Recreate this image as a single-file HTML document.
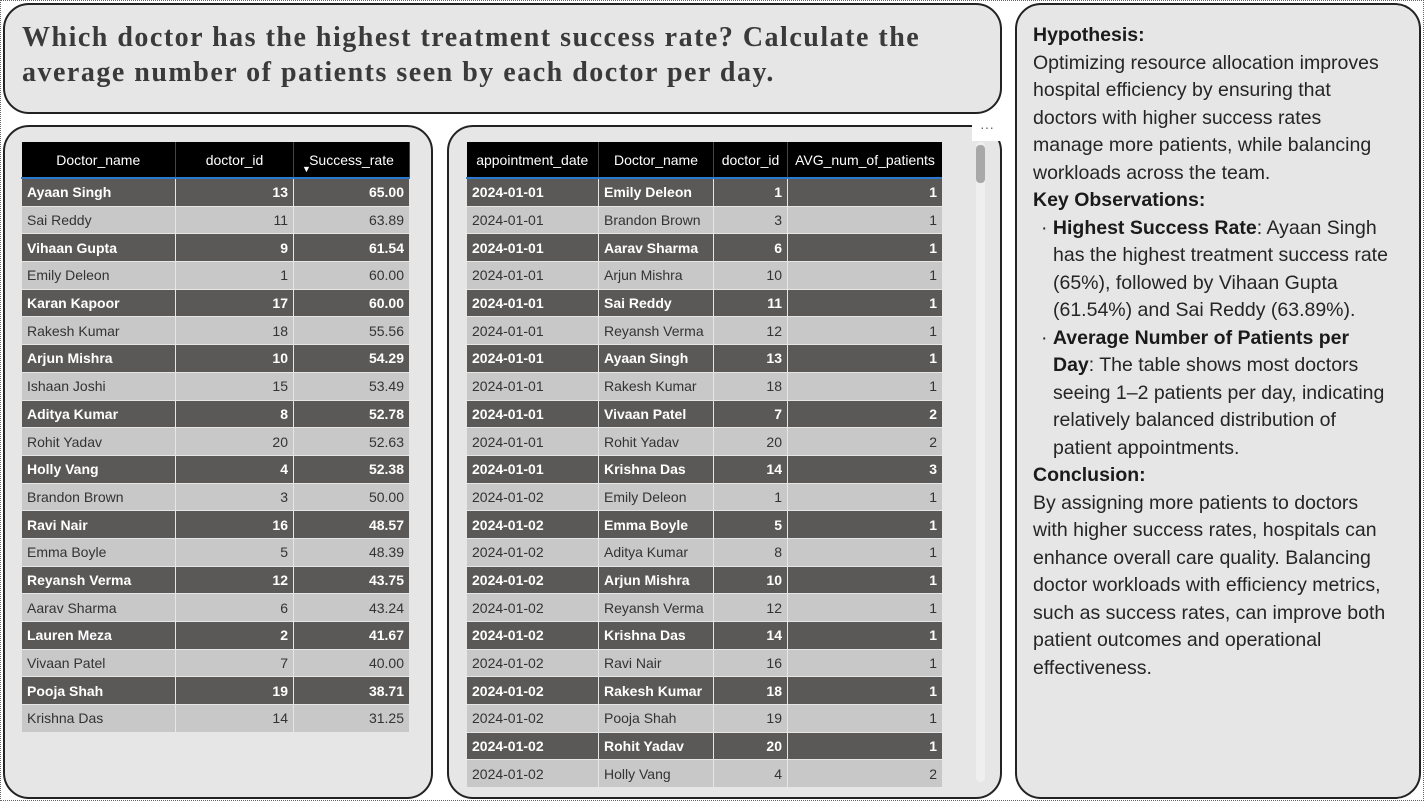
<!DOCTYPE html>
<html><head><meta charset="utf-8"><style>
body{margin:0;width:1424px;height:801px;background:#fff;position:relative;overflow:hidden;font-family:"Liberation Sans",sans-serif}
.frame{position:absolute;left:0;top:0;width:1422px;height:799px;border:1px dotted #666}
.panel{position:absolute;background:#e6e6e6;border:2px solid #222;border-radius:26px;box-sizing:border-box}
.title{left:3px;top:3px;width:999px;height:111px;font-family:"Liberation Serif",serif;font-weight:bold;font-size:28px;letter-spacing:1.5px;color:#3a3a3a;padding:15px 0 0 17px;line-height:35px;white-space:nowrap}
table{position:absolute;border-collapse:collapse;font-size:14px;table-layout:fixed}
th{background:#000;color:#fff;font-weight:normal;height:35px;border-right:1px solid #444;border-bottom:2px solid #2a7bd0;padding:0 5px;white-space:nowrap;text-align:center}
td{height:26.7px;padding:0 5px;border:1px solid #e6e6e6;white-space:nowrap;overflow:hidden}
tr.d td{background:#5b5958;color:#fff;font-weight:bold}
tr.l td{background:#c8c8c8;color:#333}
td.n{text-align:right}
.txt{left:1015px;top:3px;width:406px;height:796px;padding:17px 0 0 16px;font-size:19.5px;line-height:27.5px;color:#252525;white-space:nowrap}
.txt b{color:#1a1a1a}
.ind{padding-left:20px}
</style></head><body>
<div class="frame"></div>
<div class="panel title">Which doctor has the highest treatment success rate? Calculate the<br>average number of patients seen by each doctor per day.</div>
<div class="panel" style="left:3px;top:125px;width:430px;height:674px"></div>
<div class="panel" style="left:447px;top:125px;width:555px;height:674px"></div>
<div style="position:absolute;left:972px;top:119px;width:30px;height:22px;background:#fff;color:#666;font-size:14px;text-align:center;line-height:16px">···</div>
<div style="position:absolute;left:976px;top:142px;width:9px;height:640px;background:#efefef;border-radius:4px"><div style="width:9px;height:38px;background:#a8a8a8;border-radius:4px;margin-top:3px"></div></div>
<table id="t1" style="left:21px;top:142px;width:388px">
<colgroup><col style="width:154px"><col style="width:118px"><col style="width:116px"></colgroup>
<thead><tr><th>Doctor_name</th><th>doctor_id</th><th style="position:relative">Success_rate<span style="position:absolute;left:8px;top:22px;font-size:9px">▼</span></th></tr></thead><tbody></tbody></table>
<div style="position:absolute;left:466px;top:142px;width:476px;height:645px;overflow:hidden">
<table id="t2" style="left:0;top:0;width:476px">
<colgroup><col style="width:132px"><col style="width:115px"><col style="width:74px"><col style="width:155px"></colgroup>
<thead><tr><th>appointment_date</th><th>Doctor_name</th><th>doctor_id</th><th>AVG_num_of_patients</th></tr></thead><tbody></tbody></table></div>
<div class="panel txt">
<b>Hypothesis:</b><br>Optimizing resource allocation improves<br>hospital efficiency by ensuring that<br>doctors with higher success rates<br>manage more patients, while balancing<br>workloads across the team.<br>
<b>Key Observations:</b><br>
<div class="ind"><span style="margin-left:-12px">· </span><b>Highest Success Rate</b>: Ayaan Singh<br>has the highest treatment success rate<br>(65%), followed by Vihaan Gupta<br>(61.54%) and Sai Reddy (63.89%).</div>
<div class="ind"><span style="margin-left:-12px">· </span><b>Average Number of Patients per<br>Day</b>: The table shows most doctors<br>seeing 1–2 patients per day, indicating<br>relatively balanced distribution of<br>patient appointments.</div>
<b>Conclusion:</b><br>By assigning more patients to doctors<br>with higher success rates, hospitals can<br>enhance overall care quality. Balancing<br>doctor workloads with efficiency metrics,<br>such as success rates, can improve both<br>patient outcomes and operational<br>effectiveness.
</div>
<script>
const names1=["Ayaan Singh","Sai Reddy","Vihaan Gupta","Emily Deleon","Karan Kapoor","Rakesh Kumar","Arjun Mishra","Ishaan Joshi","Aditya Kumar","Rohit Yadav","Holly Vang","Brandon Brown","Ravi Nair","Emma Boyle","Reyansh Verma","Aarav Sharma","Lauren Meza","Vivaan Patel","Pooja Shah","Krishna Das"];
const ids1=[13,11,9,1,17,18,10,15,8,20,4,3,16,5,12,6,2,7,19,14];
const rates1=["65.00","63.89","61.54","60.00","60.00","55.56","54.29","53.49","52.78","52.63","52.38","50.00","48.57","48.39","43.75","43.24","41.67","40.00","38.71","31.25"];
const dates2=["2024-01-01","2024-01-01","2024-01-01","2024-01-01","2024-01-01","2024-01-01","2024-01-01","2024-01-01","2024-01-01","2024-01-01","2024-01-01","2024-01-02","2024-01-02","2024-01-02","2024-01-02","2024-01-02","2024-01-02","2024-01-02","2024-01-02","2024-01-02","2024-01-02","2024-01-02"];
const names2=["Emily Deleon","Brandon Brown","Aarav Sharma","Arjun Mishra","Sai Reddy","Reyansh Verma","Ayaan Singh","Rakesh Kumar","Vivaan Patel","Rohit Yadav","Krishna Das","Emily Deleon","Emma Boyle","Aditya Kumar","Arjun Mishra","Reyansh Verma","Krishna Das","Ravi Nair","Rakesh Kumar","Pooja Shah","Rohit Yadav","Holly Vang"];
const ids2=[1,3,6,10,11,12,13,18,7,20,14,1,5,8,10,12,14,16,18,19,20,4];
const avg2=[1,1,1,1,1,1,1,1,2,2,3,1,1,1,1,1,1,1,1,1,1,2];
function cell(tr,text,num,name){
  const td=document.createElement('td');
  
  
  td.textContent=text;if(num)td.className='n';tr.appendChild(td);
}
const b1=document.querySelector('#t1 tbody');
names1.forEach((n,i)=>{
  const tr=document.createElement('tr');
  
  
  tr.className=i%2?'l':'d';
  cell(tr,n,false,'doctor-name-cell');cell(tr,ids1[i],true,'doctor-id-cell');cell(tr,rates1[i],true,'success-rate-cell');
  b1.appendChild(tr);
});
const b2=document.querySelector('#t2 tbody');
dates2.forEach((d,i)=>{
  const tr=document.createElement('tr');
  
  
  tr.className=i%2?'l':'d';
  cell(tr,d,false,'date-cell');cell(tr,names2[i],false,'doctor-name-cell');cell(tr,ids2[i],true,'doctor-id-cell');cell(tr,avg2[i],true,'avg-patients-cell');
  b2.appendChild(tr);
});
</script>
</body></html>
